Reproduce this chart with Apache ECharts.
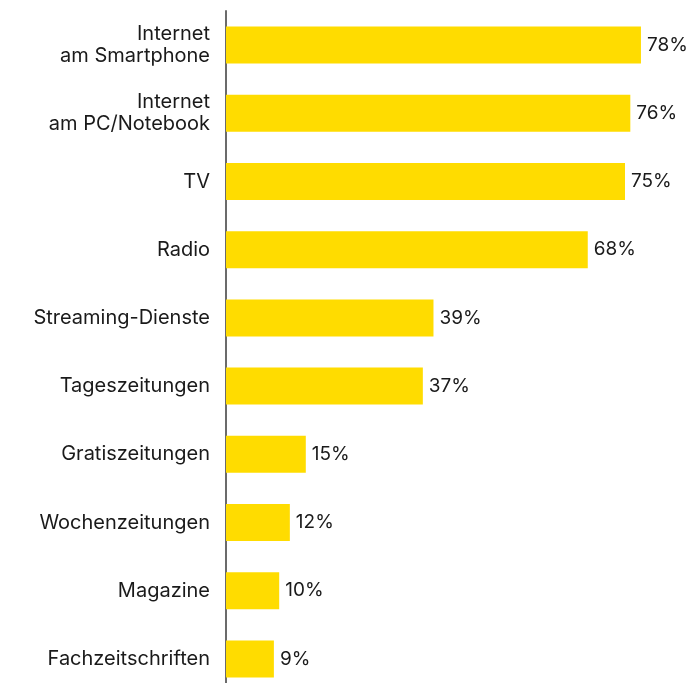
<!DOCTYPE html>
<html>
<head>
<meta charset="utf-8">
<script src="https://cdn.jsdelivr.net/npm/echarts@6/dist/echarts.min.js"></script>
<style>
  html, body { margin: 0; padding: 0; background: #fff; }
  #chart { width: 693px; height: 683px; }
</style>
</head>
<body>
<div id="chart"></div>
<script>
// Media usage shares, top to bottom
const categories = [
  'Internet\nam Smartphone',
  'Internet\nam PC/Notebook',
  'TV',
  'Radio',
  'Streaming-Dienste',
  'Tageszeitungen',
  'Gratiszeitungen',
  'Wochenzeitungen',
  'Magazine',
  'Fachzeitschriften'
];
const shares = [78, 76, 75, 68, 39, 37, 15, 12, 10, 9];

const chart = echarts.init(document.getElementById('chart'), null, { renderer: 'canvas' });
const font = 'Inter, Roboto, sans-serif';

chart.setOption({
  animation: false,
  grid: {
    left: 226, width: 532, top: 11, height: 682,
    containLabel: false,
    outerBoundsMode: 'none'
  },
  xAxis: {
    type: 'value',
    min: 0,
    max: 100,
    show: false
  },
  yAxis: {
    type: 'category',
    inverse: true,
    data: categories,
    axisLine: { show: true, lineStyle: { color: '#6b6b6b', width: 2 } },
    axisTick: { show: false },
    axisLabel: {
      margin: 16,
      color: '#1a1a1a',
      fontFamily: font,
      fontSize: 20,
      lineHeight: 22,
      align: 'right'
    }
  },
  series: [{
    type: 'bar',
    data: shares,
    barWidth: 37,
    itemStyle: { color: '#FFDC00' },
    label: {
      show: true,
      position: 'right',
      distance: 6,
      color: '#1a1a1a',
      fontFamily: font,
      fontSize: 19,
      formatter: p => p.value + '%'
    }
  }]
});
</script>
</body>
</html>
